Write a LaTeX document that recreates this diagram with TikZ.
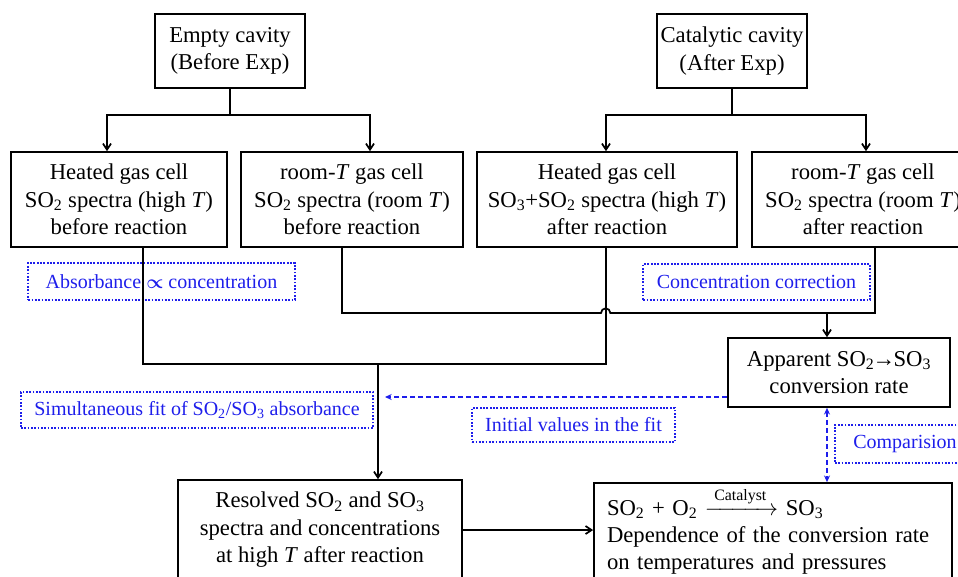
\documentclass[tikz,border=0pt]{standalone}
\usepackage{amsmath}
\usepackage{fontspec}
\setmainfont{Liberation Serif}
\usepackage{tikz}
\usetikzlibrary{arrows.meta}

\definecolor{noteblue}{RGB}{30,30,235}
\newcommand{\SOtwo}{SO\textsubscript{2}}
\newcommand{\SOthree}{SO\textsubscript{3}}

\begin{document}
\begin{tikzpicture}[x=0.75pt,y=-0.75pt,
  >={Straight Barb[length=4.5pt,width=6pt]},
  box/.style={draw,line width=1.3pt,align=center,inner sep=0pt,font=\fontsize{17}{20.6}\selectfont},
  note/.style={draw=noteblue,text=noteblue,line width=1.3pt,dash pattern=on 1.3pt off 1.2pt,inner sep=0pt,font=\fontsize{15}{18}\selectfont},
  flow/.style={line width=1.3pt},
  hint/.style={noteblue,line width=0.9pt,dash pattern=on 4pt off 2pt}]
  \useasboundingbox (0,0) rectangle (958,576);

  % cavities
  \node at (230,51) [box,minimum width=112.5pt,minimum height=55.5pt] (empty) {
    Empty cavity\\(Before Exp)
  };
  \node at (732,51) [box,minimum width=113pt,minimum height=55.5pt] (catal) {
    Catalytic cavity\\(After Exp)
  };

  % gas cells
  \node at (119,199.5) [box,minimum width=162pt,minimum height=71.25pt] (hotbefore) {
    Heated gas cell\\\SOtwo{} spectra (high \textit{T})\\before reaction
  };
  \node at (352,199.5) [box,minimum width=166.5pt,minimum height=71.25pt] (roombefore) {
    room-\textit{T} gas cell\\\SOtwo{} spectra (room \textit{T})\\before reaction
  };
  \node at (607,199.5) [box,minimum width=195pt,minimum height=71.25pt] (hotafter) {
    Heated gas cell\\\SOthree+\SOtwo{} spectra (high \textit{T})\\after reaction
  };
  \node at (863,199.5) [box,minimum width=166.5pt,minimum height=71.25pt] (roomafter) {
    room-\textit{T} gas cell\\\SOtwo{} spectra (room \textit{T})\\after reaction
  };

  % results
  \node at (839,372.5) [box,minimum width=166.5pt,minimum height=51.75pt] (apparent) {
    Apparent \SOtwo{}\kern-0.08em→\kern-0.08em\SOthree\\conversion rate
  };
  \node at (320,530) [box,minimum width=213pt,minimum height=75pt] (resolved) {
    Resolved \SOtwo{} and \SOthree\\spectra and concentrations\\at high \textit{T} after reaction
  };
  \node at (773,531) [box,minimum width=268.5pt,minimum height=72pt,inner xsep=9.75pt,text width=249pt,align=left] (depend) {
    \SOtwo{} + O\textsubscript{2} $\xrightarrow{\;\text{Catalyst}\;}$ \SOthree\\
    Dependence of the conversion rate\\
    on temperatures and pressures
  };

  % blue notes
  \node at (161.5,281.5) [note,minimum width=200pt,minimum height=27.75pt] (absorb) {Absorbance {\boldmath$\propto$} concentration};
  \node at (756.5,282) [note,minimum width=170pt,minimum height=27pt] (concorr) {Concentration correction};
  \node at (197,410) [note,minimum width=264pt,minimum height=27pt] (simfit) {Simultaneous fit of \SOtwo/\SOthree{} absorbance};
  \node at (573.5,425) [note,minimum width=152pt,minimum height=25.5pt] (initval) {Initial values in the fit};
  \node at (905,444) [note,minimum width=105pt,minimum height=28.5pt] (compar) {Comparision};

  % splits below the cavities
  \coordinate (eL) at (107,115);
  \coordinate (eR) at (370,115);
  \coordinate (cL) at (606,115);
  \coordinate (cR) at (866,115);
  \draw[flow,->] (empty.south) |- (eL) -- (eL |- hotbefore.north);
  \draw[flow,->] (empty.south) |- (eR) -- (eR |- roombefore.north);
  \draw[flow,->] (catal.south) |- (cL) -- (cL |- hotafter.north);
  \draw[flow,->] (catal.south) |- (cR) -- (cR |- roomafter.north);

  % high T branch
  \coordinate (hotL) at (143,364);
  \coordinate (hotR) at (606,364);
  \coordinate (hotM) at (378,364);
  \draw[flow] (hotL |- hotbefore.south) -- (hotL) -- (hotR) -- (hotR |- hotafter.south);
  \draw[flow,->] (hotM) -- (hotM |- resolved.north);

  % room T branch, hopping over the high T line
  \coordinate (roomL) at (342,313);
  \coordinate (roomR) at (875,313);
  \coordinate (roomM) at (827,313);
  \draw[flow] (roomL |- roombefore.south) -- (roomL) -- (601,313)
    arc[start angle=180,end angle=0,radius=3.5pt] -- (roomR) -- (roomR |- roomafter.south);
  \draw[flow,->] (roomM) -- (roomM |- apparent.north);

  \draw[flow,->] (resolved.east) -- (resolved.east -| depend.west);

  % dashed hints
  \coordinate (fitin) at (385,397);
  \draw[hint,-{Stealth[length=5pt,width=4.5pt]}] (fitin -| apparent.west) -- (fitin);
  \draw[hint,{Stealth[length=5pt,width=4.5pt]}-{Stealth[length=5pt,width=4.5pt]}] (roomM |- apparent.south) -- (roomM |- depend.north);
\end{tikzpicture}
\end{document}
